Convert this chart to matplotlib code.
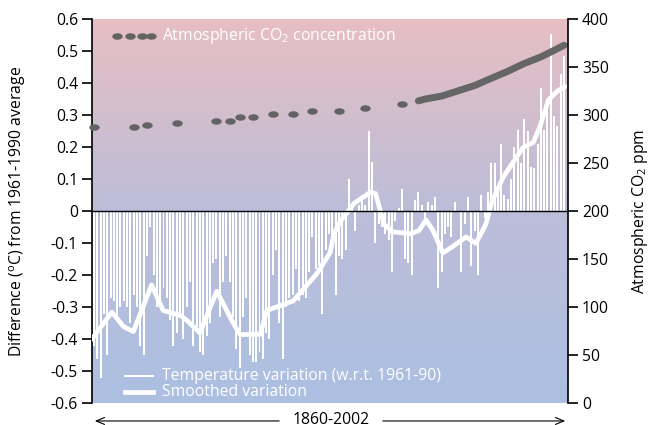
import numpy as np
import matplotlib.pyplot as plt
from matplotlib.colors import LinearSegmentedColormap
from matplotlib.path import Path

plt.rcParams['font.family'] = ['Open Sans', 'DejaVu Sans']
plt.rcParams['mathtext.default'] = 'regular'

# annual temperature anomaly (deg C, w.r.t. 1961-90), 1860-2002
years = np.arange(1860, 2003)
temp = np.array([
    -0.42, -0.46, -0.52, -0.32, -0.45, -0.27, -0.28, -0.33, -0.30, -0.28,   # 1860s
    -0.30, -0.35, -0.26, -0.30, -0.42, -0.45, -0.14, -0.05, -0.20, -0.30,   # 1870s
    -0.28, -0.24, -0.27, -0.34, -0.42, -0.38, -0.33, -0.40, -0.30, -0.22,   # 1880s
    -0.42, -0.36, -0.44, -0.45, -0.39, -0.35, -0.16, -0.15, -0.33, -0.22,   # 1890s
    -0.14, -0.22, -0.33, -0.43, -0.49, -0.33, -0.27, -0.45, -0.47, -0.47,   # 1900s
    -0.44, -0.46, -0.38, -0.40, -0.20, -0.12, -0.35, -0.46, -0.30, -0.27,   # 1910s
    -0.26, -0.18, -0.28, -0.26, -0.27, -0.19, -0.08, -0.18, -0.17, -0.32,   # 1920s
    -0.12, -0.07, -0.12, -0.26, -0.14, -0.15, -0.12, 0.10, 0.02, -0.06,     # 1930s
    0.02, 0.05, 0.02, 0.25, 0.155, -0.10, -0.04, -0.05, -0.07, -0.09,       # 1940s
    -0.19, -0.03, 0.01, 0.07, -0.15, -0.16, -0.20, 0.035, 0.06, 0.02,       # 1950s
    -0.02, 0.03, 0.02, 0.045, -0.24, -0.19, -0.07, -0.05, -0.08, 0.03,      # 1960s
    0.00, -0.19, -0.04, 0.045, -0.17, -0.06, -0.20, 0.05, -0.02, 0.06,      # 1970s
    0.15, 0.15, 0.08, 0.21, 0.05, 0.04, 0.10, 0.20, 0.255, 0.15,            # 1980s
    0.287, 0.25, 0.14, 0.135, 0.21, 0.385, 0.255, 0.32, 0.553, 0.297,       # 1990s
    0.266, 0.43, 0.485,                                                      # 2000s
])

# smoothed curve
smooth_years = [1859.3, 1865.4, 1868.9, 1871.9, 1877.4, 1880.9, 1886.0, 1888.0,
                1892.0, 1897.1, 1902.1, 1904.1, 1910.2, 1912.2, 1920.2, 1927.3,
                1931.3, 1932.5, 1934.5, 1938.6, 1943.6, 1945.1, 1947.6, 1950.1,
                1955.7, 1958.2, 1960.3, 1962.3, 1965.4, 1968.4, 1972.4, 1975.4,
                1978.4, 1980.2, 1983.7, 1987.7, 1989.7, 1992.7, 1994.7, 1997.3,
                1999.8, 2002.3]
smooth_vals = [-0.40, -0.315, -0.36, -0.376, -0.23, -0.31, -0.325, -0.34,
               -0.38, -0.25, -0.35, -0.385, -0.385, -0.31, -0.28, -0.195,
               -0.13, -0.07, -0.03, 0.025, 0.06, 0.055, -0.04, -0.064,
               -0.07, -0.06, -0.027, -0.058, -0.13, -0.11, -0.08, -0.10,
               -0.04, 0.03, 0.108, 0.17, 0.20, 0.215, 0.264, 0.348,
               0.374, 0.39]

# CO2 (ppm): ice core points and the (smooth) direct record
co2_ice_years = [1860, 1872, 1876, 1885, 1897, 1901, 1904, 1908, 1914, 1920,
                 1926, 1934, 1942, 1953]
co2_ice = [287.3, 288.0, 289.4, 291.5, 294.2, 294.2, 297.8, 297.8, 301.2, 301.2,
           304.3, 304.3, 307.8, 311.3]
co2_ml_years = [1958, 1960, 1965, 1970, 1975, 1980, 1985, 1990, 1995, 2000, 2002]
co2_ml = [315.0, 316.9, 320.0, 325.5, 331.0, 338.5, 345.8, 354.0, 360.8, 369.4, 373.0]

temp_ticks = np.round(np.arange(-0.6, 0.61, 0.1), 1)
temp_labels = ['0' if t == 0 else '%.1f' % t for t in temp_ticks]
co2_ticks = np.arange(0, 401, 50)

fs = 11.3
fig = plt.figure(figsize=(6.54, 4.25), dpi=100)
ax = fig.add_axes([92/654, 1 - 403.3/425, 476/654, 384/425])
x0, x1 = 1859.4, 2003.2

# background gradient blue -> pink
cmap = LinearSegmentedColormap.from_list('bg', ['#acc0e2', '#bcbdd9', '#e7bfc3'])
grad = np.linspace(0, 1, 256).reshape(-1, 1)
ax.imshow(grad, extent=[x0, x1, -0.6, 0.6], origin='lower', aspect='auto',
          cmap=cmap, zorder=0)

ax.bar(years, temp, width=0.6, color='white', zorder=2)
ax.plot(smooth_years, smooth_vals, color='white', lw=3.4, zorder=3,
        solid_joinstyle='round', solid_capstyle='round')
ax.axhline(0, color='black', lw=1.0, zorder=4)

ax.set_xlim(x0, x1)
ax.set_ylim(-0.6, 0.6)
ax.set_xticks([])
ax.set_yticks(temp_ticks)
ax.set_yticklabels(temp_labels)
ax.tick_params(axis='y', direction='out', length=7, width=1.2, labelsize=fs, pad=3)
for s in ['top', 'bottom', 'right']:
    ax.spines[s].set_visible(False)
ax.spines['left'].set_linewidth(1.2)
ax.set_ylabel('Difference ($^o$C) from 1961-1990 average', fontsize=fs)
ax.yaxis.set_label_coords(-0.134, 0.5)

ax2 = ax.twinx()
t = np.linspace(0, 2*np.pi, 40)
ell = Path(np.column_stack([np.cos(t), 0.62*np.sin(t)]), closed=True)
ax2.plot(co2_ice_years, co2_ice, ls='none', marker=ell, ms=7.5,
         color='#636363', mec='none', clip_on=False)
ax2.plot(co2_ml_years, co2_ml, color='#666666', lw=5, solid_capstyle='round')
ax2.set_ylim(0, 400)
ax2.set_yticks(co2_ticks)
ax2.tick_params(axis='y', direction='out', length=7, width=1.2, labelsize=fs, pad=3)
for s in ['top', 'bottom', 'left']:
    ax2.spines[s].set_visible(False)
ax2.spines['right'].set_linewidth(1.2)
ax2.set_ylabel('Atmospheric CO$_2$ ppm', fontsize=fs, rotation=90)
ax2.yaxis.set_label_coords(1.130, 0.5)

# legends
for lx in [0.053, 0.080, 0.106, 0.124]:
    ax2.plot(lx, 0.9565, marker=ell, ms=7.5, color='#636363', mec='none',
             transform=ax.transAxes)
ax2.text(0.1465, 0.9565, 'Atmospheric CO$_2$ concentration', color='white',
         fontsize=fs, va='center', transform=ax.transAxes)
ax2.plot([0.069, 0.128], [0.071, 0.071], color='white', lw=1.5, transform=ax.transAxes)
ax2.plot([0.069, 0.128], [0.030, 0.030], color='white', lw=3.4, transform=ax.transAxes)
ax2.text(0.147, 0.071, 'Temperature variation (w.r.t. 1961-90)', color='white',
         fontsize=fs, va='center', transform=ax.transAxes)
ax2.text(0.147, 0.030, 'Smoothed variation', color='white',
         fontsize=fs, va='center', transform=ax.transAxes)

# period arrow under the plot
arr = dict(arrowstyle='->,head_length=0.6,head_width=0.25', lw=0.8, color='black')
ax.annotate('', xy=(0.0, -0.046), xytext=(0.399, -0.046), xycoords='axes fraction',
            arrowprops=arr, annotation_clip=False)
ax.annotate('', xy=(1.0, -0.046), xytext=(0.605, -0.046), xycoords='axes fraction',
            arrowprops=arr, annotation_clip=False)
ax.text(0.502, -0.044, '1860-2002', fontsize=fs, ha='center', va='center',
        transform=ax.transAxes)

fig.savefig('out.png', dpi=100)
